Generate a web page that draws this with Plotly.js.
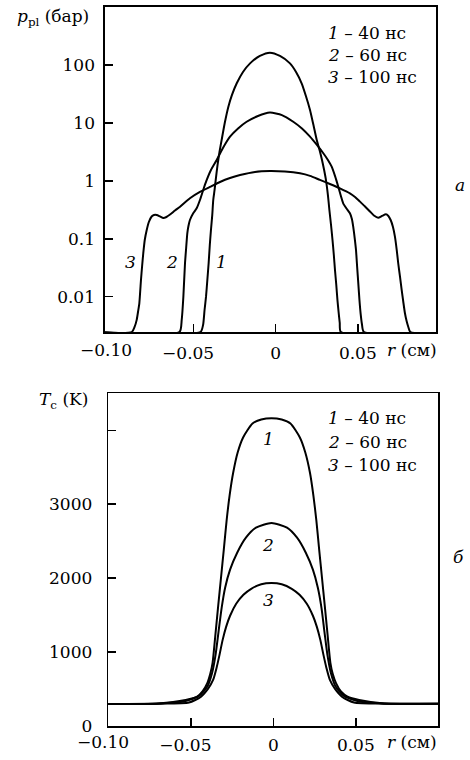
<!DOCTYPE html>
<html><head><meta charset="utf-8">
<script src="https://cdn.plot.ly/plotly-3.0.1.min.js"></script>
<style>
html,body{margin:0;padding:0;background:#fff;}
</style>
</head><body>
<div id="c" style="width:470px;height:760px"></div>
<script>
// ---------- data: panel a, p_pl (bar) vs r (cm) ----------
const a1x = [-0.11,-0.0458,-0.0442,-0.0433,-0.0424,-0.0416,-0.0408,-0.0401,-0.0394,-0.0386,-0.0380,-0.0372,-0.0365,-0.0354,-0.0342,-0.0329,-0.0310,-0.0288,-0.0266,-0.0237,-0.0199,-0.0156,-0.0096,-0.0035,0.0026,0.0087,0.0124,0.0158,0.0184,0.0209,0.0230,0.0250,0.0267,0.0282,0.0295,0.0306,0.0318,0.0327,0.0337,0.0346,0.0354,0.0361,0.0369,0.0376,0.0383,0.0390,0.0397,0.11];
const a1y = [0.00245,0.00245,0.00324,0.00589,0.0100,0.0194,0.0382,0.0782,0.142,0.258,0.468,0.697,1.04,1.88,3.16,5.08,10.0,19.1,30.5,48.5,76,107,144,164,144,107,76,48.5,29.3,16.8,9.2,5.08,3.42,2.30,1.54,1.04,0.570,0.314,0.173,0.0953,0.0525,0.0289,0.0159,0.00877,0.00544,0.00352,0.00245,0.00245];
const a2x = [-0.11,-0.0586,-0.0572,-0.0562,-0.0552,-0.0545,-0.0538,-0.0531,-0.0522,-0.0502,-0.0481,-0.0461,-0.0441,-0.0422,-0.0394,-0.0359,-0.0321,-0.0278,-0.0229,-0.0177,-0.0108,-0.0035,0.0038,0.0107,0.0160,0.0209,0.0251,0.0290,0.0318,0.0341,0.0361,0.0381,0.0397,0.0411,0.0431,0.0452,0.0464,0.0472,0.0481,0.0489,0.0496,0.0503,0.0510,0.0517,0.0525,0.0537,0.11];
const a2y = [0.00245,0.00245,0.00398,0.0100,0.0378,0.0694,0.124,0.166,0.211,0.276,0.336,0.468,0.697,0.996,1.54,2.30,3.70,5.80,8.03,10.5,13.2,15.1,13.7,10.5,8.03,5.80,4.17,3.0,2.30,1.76,1.22,0.794,0.548,0.410,0.334,0.276,0.220,0.162,0.103,0.0641,0.0326,0.0170,0.00877,0.00517,0.00338,0.00245,0.00245];
const a3x = [-0.11,-0.0876,-0.0859,-0.0846,-0.0837,-0.0830,-0.0825,-0.0820,-0.0813,-0.0806,-0.0797,-0.0785,-0.0772,-0.0755,-0.0741,-0.0724,-0.0704,-0.0684,-0.0665,-0.0643,-0.0613,-0.0582,-0.0522,-0.0461,-0.0400,-0.0339,-0.0278,-0.0217,-0.0126,-0.0035,0.0056,0.0148,0.0209,0.0269,0.0330,0.0391,0.0452,0.0483,0.0513,0.0544,0.0574,0.0598,0.0624,0.0647,0.0671,0.0686,0.0700,0.0714,0.0726,0.0737,0.0746,0.0757,0.0767,0.0777,0.0787,0.0797,0.0807,0.0820,0.11];
const a3y = [0.00245,0.00245,0.0030,0.00398,0.00569,0.00769,0.0120,0.0194,0.0339,0.0562,0.0953,0.142,0.195,0.243,0.258,0.258,0.243,0.229,0.238,0.262,0.308,0.358,0.500,0.643,0.785,0.957,1.12,1.26,1.43,1.48,1.45,1.35,1.22,1.04,0.885,0.745,0.611,0.527,0.438,0.361,0.296,0.253,0.231,0.248,0.265,0.248,0.211,0.160,0.109,0.0640,0.0378,0.0219,0.0131,0.0081,0.00517,0.0038,0.00303,0.00245,0.00245];

// ---------- data: panel б, T_c (K) vs r (cm) ----------
const b1x = [-0.105,-0.0694,-0.0531,-0.0461,-0.0429,-0.0400,-0.0382,-0.0368,-0.0351,-0.0334,-0.0317,-0.0300,-0.0283,-0.0265,-0.0243,-0.0216,-0.0183,-0.0126,-0.0073,-0.0011,0.0051,0.0104,0.0161,0.0194,0.0222,0.0243,0.0261,0.0278,0.0295,0.0312,0.0329,0.0346,0.0360,0.0380,0.0410,0.0450,0.0520,0.0672,0.105];
const b1y = [298,305,352,397,467,579,705,854,1233,1626,2005,2385,2778,3116,3428,3699,3902,4092,4146,4164,4146,4092,3902,3699,3428,3116,2778,2385,2005,1626,1233,854,705,579,467,397,352,305,300];
const b2x = [-0.105,-0.0694,-0.0542,-0.0450,-0.0400,-0.0371,-0.0350,-0.0332,-0.0313,-0.0292,-0.0262,-0.0219,-0.0166,-0.0105,-0.0011,0.0083,0.0144,0.0197,0.0240,0.0270,0.0292,0.0310,0.0328,0.0349,0.0378,0.0428,0.0520,0.0672,0.105];
const b2y = [298,305,332,407,533,718,962,1274,1599,1870,2114,2344,2547,2683,2747,2683,2547,2344,2114,1870,1599,1274,962,718,533,407,332,305,300];
const b3x = [-0.105,-0.0694,-0.0511,-0.0440,-0.0396,-0.0365,-0.0344,-0.0326,-0.0307,-0.0286,-0.0262,-0.0225,-0.0181,-0.0134,-0.0073,-0.0011,0.0051,0.0112,0.0159,0.0203,0.0240,0.0264,0.0285,0.0304,0.0322,0.0343,0.0374,0.0418,0.0489,0.0672,0.105];
const b3y = [298,302,318,393,501,623,786,962,1165,1341,1491,1653,1775,1856,1917,1934,1917,1856,1775,1653,1491,1341,1165,962,786,623,501,393,318,302,300];

// ---------- labels ----------
const curveIds = ['1','2','3'];
const times = ['40 нс','60 нс','100 нс'];
const aTickVals = [0.01,0.1,1,10,100];
const aTickText = ['0.01','0.1','1','10','100'];
const bTickVals = [0,1000,2000,3000,4000];
const bTickText = ['0','1000','2000','3000',' '];
const rTickVals = [-0.05,0,0.05];
const rTickText = ['\u22120.05\u2007','0','0.05'];

const W = 470, H = 760;
const fx = p => p / W;
const fy = p => 1 - p / H;

const line = {color:'#000', width:2, shape:'spline', smoothing:0.6};
const traces = [
  {x:a1x, y:a1y, xaxis:'x', yaxis:'y', mode:'lines', line:line},
  {x:a2x, y:a2y, xaxis:'x', yaxis:'y', mode:'lines', line:line},
  {x:a3x, y:a3y, xaxis:'x', yaxis:'y', mode:'lines', line:line},
  {x:b1x, y:b1y, xaxis:'x2', yaxis:'y2', mode:'lines', line:line},
  {x:b2x, y:b2y, xaxis:'x2', yaxis:'y2', mode:'lines', line:line},
  {x:b3x, y:b3y, xaxis:'x2', yaxis:'y2', mode:'lines', line:line}
];

const axBase = () => ({showline:true, mirror:true, linecolor:'#000', linewidth:1.6, ticks:'inside',
  ticklen:8, tickwidth:1.5, tickcolor:'#000', showgrid:false, zeroline:false, fixedrange:true});

const ann = [];
function A(text, x, y, xanchor) {
  ann.push({text:text, x:fx(x), y:fy(y), xref:'paper', yref:'paper',
    xanchor:xanchor||'center', yanchor:'middle', showarrow:false});
}
// panel a
A('<i>p</i><sub>pl</sub> (бар)', 15, 18, 'left');
for (let i=0;i<3;i++) A('<i>'+curveIds[i]+'</i> – '+times[i], 326, [33.3,55,77.3][i], 'left');
A('<i>3</i>', 130, 261.7); A('<i>2</i>', 171.7, 261.7); A('<i>1</i>', 221.7, 261.7);
A('<i>a</i>', 460, 185);
A('<i>r</i> (см)', 385, 350, 'left');
ann.push({text:'\u22120.10\u2007', x:-0.10, xref:'x', y:fy(350), yref:'paper', xanchor:'center', yanchor:'middle', showarrow:false});
// panel б
A('<i>T</i><sub>c</sub> (K)', 36.7, 400.7, 'left');
for (let i=0;i<3;i++) A('<i>'+curveIds[i]+'</i> – '+times[i], 326, [418.3,441.7,465][i], 'left');
A('<i>1</i>', 268.3, 439.3); A('<i>2</i>', 268.3, 545); A('<i>3</i>', 268.3, 600);
A('<i>б</i>', 458, 556.7);
A('<i>r</i> (см)', 385, 741.7, 'left');
ann.push({text:'\u22120.10\u2007', x:-0.10, xref:'x2', y:fy(741.7), yref:'paper', xanchor:'center', yanchor:'middle', showarrow:false});

const layout = {
  width:W, height:H, margin:{l:0,r:0,t:0,b:0}, showlegend:false,
  paper_bgcolor:'#fff', plot_bgcolor:'#fff',
  font:{family:'DejaVu Serif', size:17, color:'#000'},
  xaxis: Object.assign(axBase(), {domain:[fx(105), fx(436)], range:[-0.1039,0.0976],
    tickvals:rTickVals, ticktext:rTickText, anchor:'y', ticklabelstandoff:5}),
  yaxis: Object.assign(axBase(), {domain:[fy(332.3), fy(7)], type:'log', range:[-2.615,3.003],
    tickvals:aTickVals, ticktext:aTickText, anchor:'x', ticklabelstandoff:5}),
  xaxis2: Object.assign(axBase(), {domain:[fx(108.3), fx(438.3)], range:[-0.1,0.1],
    tickvals:rTickVals, ticktext:rTickText, anchor:'y2', ticklabelstandoff:3}),
  yaxis2: Object.assign(axBase(), {domain:[fy(726), fy(393.3)], range:[0,4500],
    tickvals:bTickVals, ticktext:bTickText, anchor:'x2', ticklabelstandoff:11}),
  annotations: ann
};
Plotly.newPlot('c', traces, layout, {staticPlot:true});
</script></body></html>
